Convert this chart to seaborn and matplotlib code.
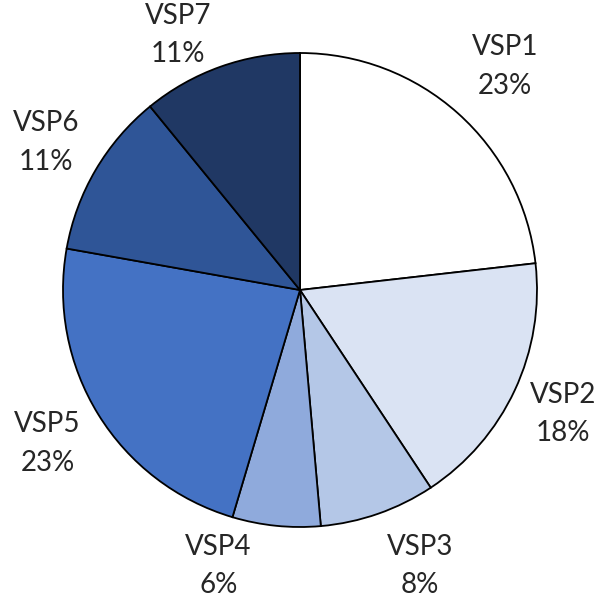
import numpy as np
import matplotlib
matplotlib.use("Agg")
import matplotlib.pyplot as plt
import seaborn as sns

# --- data ---
categories = ["VSP1", "VSP2", "VSP3", "VSP4", "VSP5", "VSP6", "VSP7"]
shares = [23.2, 17.5, 7.9, 6.0, 23.2, 11.3, 10.9]
pct_labels = ["23%", "18%", "8%", "6%", "23%", "11%", "11%"]
colors = ["#FFFFFF", "#DAE3F3", "#B4C7E7", "#8FAADC", "#4472C4", "#2F5597", "#203864"]

# label placement (angle in degrees, radius in pie units) - Excel "best fit" look
label_angles = [47.5, -25.2, -66.5, -106.5, -148.7, 149.9, 115.6]
label_radius = [1.28, 1.227, 1.27, 1.215, 1.247, 1.239, 1.193]

sns.set_style("white")
plt.rcParams["font.family"] = ["Lato", "DejaVu Sans"]

fig = plt.figure(figsize=(6.11, 5.98), dpi=100)
# pie centre ~ (300, 290) px, radius ~ 237 px
ax = fig.add_axes([(300 - 237) / 611, (598 - 290 - 237) / 598, 474 / 611, 474 / 598])

ax.pie(shares, colors=colors, startangle=90, counterclock=False, radius=1,
       wedgeprops=dict(edgecolor="black", linewidth=1.3))

for name, pct, ang, r in zip(categories, pct_labels, label_angles, label_radius):
    a = np.deg2rad(ang)
    ax.text(r * np.cos(a), r * np.sin(a), f"{name}\n{pct}", ha="center", va="center",
            fontsize=20, color="#262626", linespacing=1.6)

ax.set_xlim(-1, 1)
ax.set_ylim(-1, 1)
ax.set_aspect("equal")
ax.axis("off")

fig.savefig("out.png", dpi=100)
